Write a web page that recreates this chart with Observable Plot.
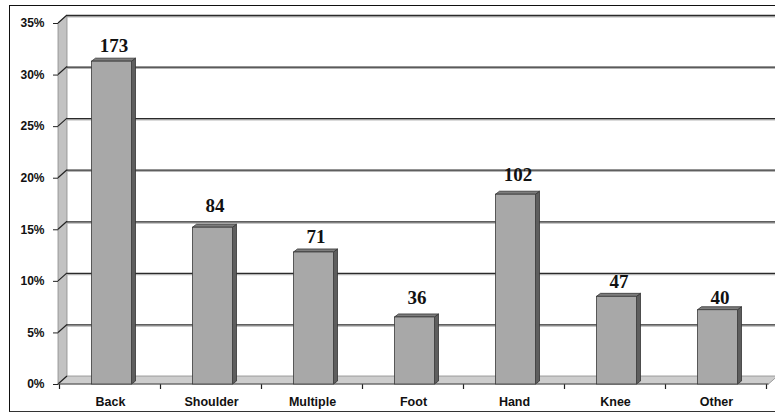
<!DOCTYPE html>
<html>
<head>
<meta charset="utf-8">
<script src="https://cdn.jsdelivr.net/npm/d3@7"></script>
<script src="https://cdn.jsdelivr.net/npm/@observablehq/plot@0.6"></script>
<style>
  html, body { margin: 0; padding: 0; background: #fff; }
  #wrap { position: relative; width: 775px; height: 414px; overflow: hidden; }
  #wrap svg { position: absolute; left: 0; top: 0; }
  #border { position: absolute; left: 9px; top: 5px; width: 775px; height: 405px;
    border-top: 1.5px solid #111; border-left: 1.5px solid #111; border-bottom: 1.5px solid #333;
    pointer-events: none; }
</style>
</head>
<body>
<div id="wrap"><div id="border"></div></div>
<script>
// Data
const categories = ["Back", "Shoulder", "Multiple", "Foot", "Hand", "Knee", "Other"];
const counts = [173, 84, 71, 36, 102, 47, 40];
const percents = [31.3, 15.2, 12.8, 6.5, 18.4, 8.5, 7.2];
// height (in % units) where each count label sits in the reference
const labelAt = [32.2, 16.7, 13.7, 7.85, 19.7, 9.4, 7.85];
const yTicks = [0, 5, 10, 15, 20, 25, 30, 35];

const data = categories.map((c, i) => ({cat: c, count: counts[i], pct: percents[i], lab: labelAt[i]}));

const DX = 9, DY = -8;      // depth of walls (px)
const BX = 4, BY = -3;      // depth of bars (px)
const BAR_SHIFT = 1.5;

// Background: left wall, floor, diagonal grid on wall, category ticks
function scene(index, scales, values, dimensions) {
  const {x, y} = scales;
  const x0 = dimensions.marginLeft;
  const x1 = dimensions.width - dimensions.marginRight;
  const y0 = y(0), yT = y(yTicks[yTicks.length - 1]);
  const g = d3.create("svg:g");
  const poly = (pts) => pts.map(p => p.join(",")).join(" ");
  g.append("polygon")
    .attr("points", poly([[x0, y0], [x0 + DX, y0 + DY], [x0 + DX, yT + DY], [x0, yT]]))
    .attr("fill", "#c2c2c2").attr("stroke", "#8a8a8a").attr("stroke-width", 0.8);
  g.append("polygon")
    .attr("points", poly([[x0, y0], [x0 + DX, y0 + DY], [x1 + DX, y0 + DY], [x1, y0]]))
    .attr("fill", "#cdcdcd").attr("stroke", "#8a8a8a").attr("stroke-width", 0.8);
  for (const t of yTicks) {
    g.append("line")
      .attr("x1", x0).attr("y1", y(t)).attr("x2", x0 + DX).attr("y2", y(t) + DY)
      .attr("stroke", "#222").attr("stroke-width", 1.2);
  }
  // category boundary ticks
  const step = x(categories[1]) - x(categories[0]);
  const bw = x.bandwidth ? x.bandwidth() : step * 0.4;
  const gap = (step - bw) / 2;
  const bounds = categories.map(c => x(c) - gap);
  bounds.push(x(categories[categories.length - 1]) + bw + gap);
  for (const b of bounds) {
    g.append("line").attr("x1", b).attr("x2", b).attr("y1", y0).attr("y2", y0 + 5)
      .attr("stroke", "#222").attr("stroke-width", 1.2);
  }
  g.append("line").attr("x1", x0).attr("x2", x1).attr("y1", y0).attr("y2", y0)
    .attr("stroke", "#555").attr("stroke-width", 1);
  return g.node();
}

// depth faces for bars (side and top), computed from the bars Plot lays out
function depthFaces(index, scales, values, dimensions, context, next) {
  const g = next(index, scales, values, dimensions, context);
  const rects = Array.from(g.querySelectorAll("rect"));
  const NS = "http://www.w3.org/2000/svg";
  const pts = (a) => a.map(p => p.join(",")).join(" ");
  for (const r of rects) {
    const rx = +r.getAttribute("x"), ry = +r.getAttribute("y");
    const rw = +r.getAttribute("width"), rh = +r.getAttribute("height");
    const side = document.createElementNS(NS, "polygon");
    side.setAttribute("points", pts([[rx + rw, ry], [rx + rw + BX, ry + BY], [rx + rw + BX, ry + rh + BY], [rx + rw, ry + rh]]));
    side.setAttribute("fill", "#5e5e5e");
    side.setAttribute("stroke", "#333");
    side.setAttribute("stroke-width", "0.8");
    const top = document.createElementNS(NS, "polygon");
    top.setAttribute("points", pts([[rx, ry], [rx + BX, ry + BY], [rx + rw + BX, ry + BY], [rx + rw, ry]]));
    top.setAttribute("fill", "#7d7d7d");
    top.setAttribute("stroke", "#333");
    top.setAttribute("stroke-width", "0.8");
    r.replaceWith(side);
    side.after(top);
  }
  return g;
}

const chart = Plot.plot({
  width: 775,
  height: 414,
  marginLeft: 58,
  marginRight: 6.5,
  marginTop: 23,
  marginBottom: 30,
  style: {fontFamily: "'Liberation Sans', Arial, sans-serif", fontSize: "12px", fontWeight: "bold", color: "#111", background: "transparent"},
  x: {domain: categories, paddingInner: 0.6, paddingOuter: 0.3, axis: null},
  y: {domain: [0, 35], axis: null},
  marks: [
    scene,
    Plot.ruleY(yTicks.slice(1), {y: d => d, dx: DX, dy: DY + 1.3, stroke: "#b5b5b5", strokeWidth: 1.2}),
    Plot.ruleY(yTicks.slice(1), {y: d => d, dx: DX, dy: DY, stroke: "#2a2a2a", strokeWidth: 1.3}),
    Plot.axisY({ticks: yTicks, tickSize: 5, tickPadding: 9, tickFormat: d => d + "%", fontSize: 12, fontWeight: "bold", stroke: "#222", label: null}),
    Plot.axisX({tickSize: 0, tickPadding: 13, fontSize: 12.5, fontWeight: "bold", label: null}),
    Plot.barY(data, {x: "cat", y: "pct", dx: BAR_SHIFT, fill: "#5e5e5e", render: depthFaces}),
    Plot.barY(data, {x: "cat", y: "pct", dx: BAR_SHIFT, fill: "#a8a8a8", stroke: "#3a3a3a", strokeWidth: 0.8}),
    Plot.text(data, {x: "cat", y: "lab", text: d => String(d.count), dx: BAR_SHIFT + 2, dy: 0, lineAnchor: "bottom",
      fontFamily: "'Liberation Serif', 'Times New Roman', serif", fontWeight: "bold", fontSize: 19, fill: "#111"})
  ]
});
document.getElementById("wrap").prepend(chart);
</script>
</body>
</html>
